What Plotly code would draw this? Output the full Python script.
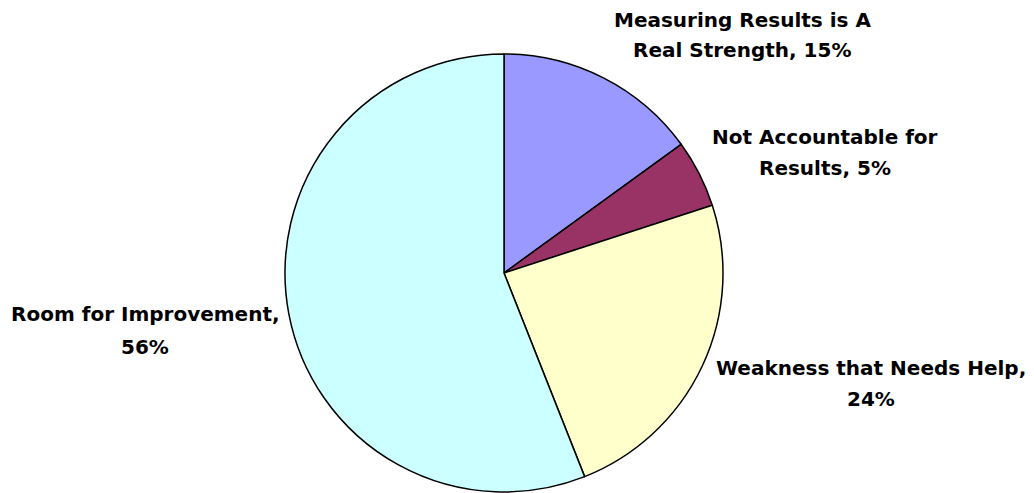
import textwrap
import plotly.graph_objects as go

# Survey responses: share of respondents per answer (percent)
categories = [
    "Measuring Results is A Real Strength",
    "Not Accountable for Results",
    "Weakness that Needs Help",
    "Room for Improvement",
]
shares = [15, 5, 24, 56]
slice_colors = ["#9999FF", "#993366", "#FFFFCC", "#CCFFFF"]

W, H = 1034, 493

# Label placement (pixel centre of each line block) and wrap width in characters
label_layout = {
    "Measuring Results is A Real Strength": dict(x=742, y=[20, 50], wrap=22),
    "Not Accountable for Results": dict(x=825, y=[137, 168], wrap=19),
    "Weakness that Needs Help": dict(x=871, y=[368, 399], wrap=25),
    "Room for Improvement": dict(x=145, y=[314, 347], wrap=21),
}

fig = go.Figure(
    go.Pie(
        labels=categories,
        values=shares,
        sort=False,
        direction="clockwise",
        rotation=0,
        marker=dict(colors=slice_colors, line=dict(color="#000000", width=1.5)),
        textinfo="none",
        hoverinfo="label+percent",
        showlegend=False,
        domain=dict(x=[(504 - 219) / W, (504 + 219) / W],
                    y=[1 - 492 / H, 1 - 54 / H]),
    )
)

annotations = []
for cat, val in zip(categories, shares):
    spec = label_layout[cat]
    lines = textwrap.wrap(f"{cat}, {val}%", width=spec["wrap"])
    for line, cy in zip(lines, spec["y"]):
        annotations.append(dict(
            text=line, xref="paper", yref="paper",
            x=spec["x"] / W, y=1 - cy / H,
            xanchor="center", yanchor="middle", showarrow=False,
            font=dict(family="DejaVu Sans", size=20, color="#000000", weight="bold"),
        ))

fig.update_layout(
    width=W, height=H,
    margin=dict(l=0, r=0, t=0, b=0),
    paper_bgcolor="#FFFFFF", plot_bgcolor="#FFFFFF",
    annotations=annotations,
)

fig.write_html("out.html")
